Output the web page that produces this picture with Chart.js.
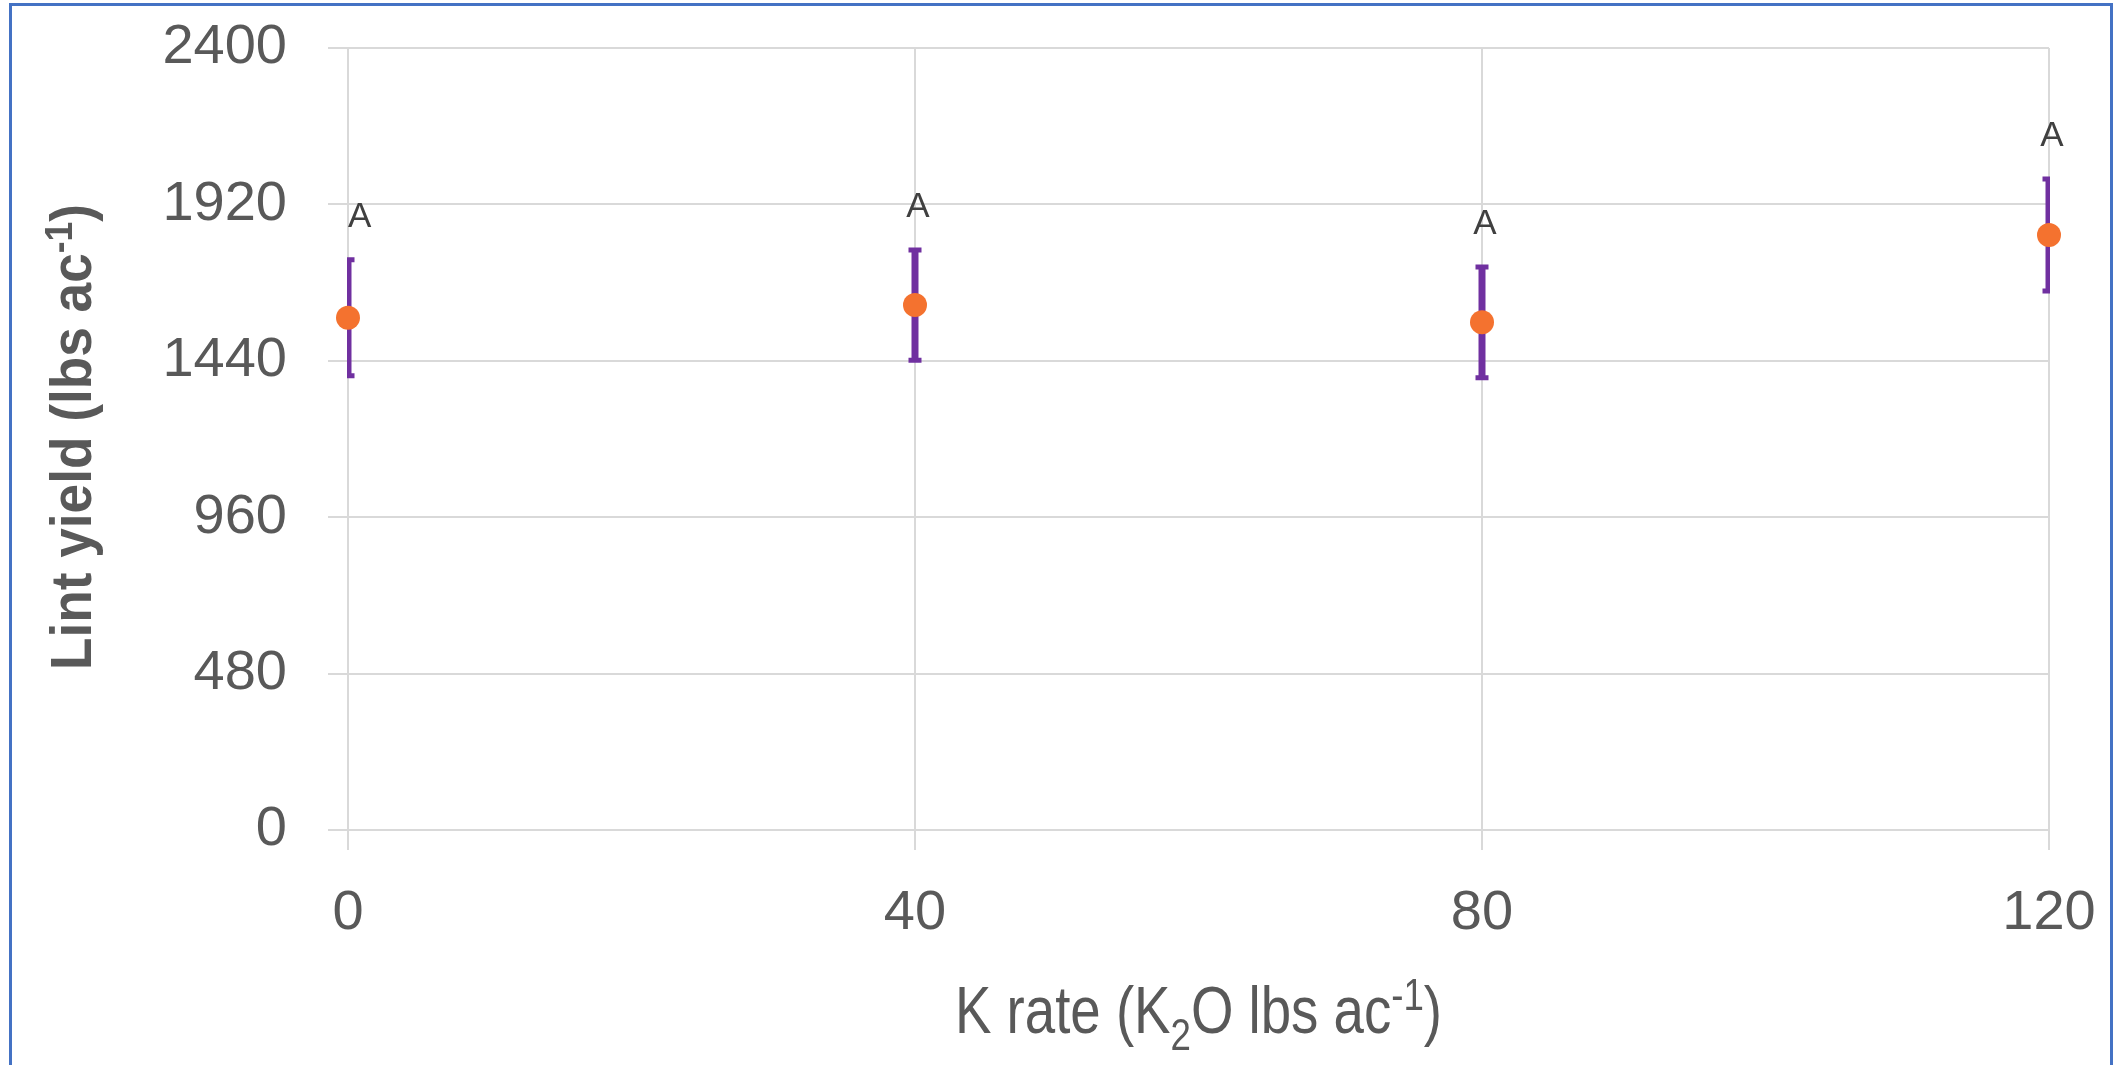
<!DOCTYPE html>
<html>
<head>
<meta charset="utf-8">
<script src="https://cdn.jsdelivr.net/npm/chart.js@4.4.1/dist/chart.umd.min.js"></script>
<style>
  html, body { margin: 0; padding: 0; background: #fff; overflow: hidden; }
  #wrap { position: relative; width: 2114px; height: 1065px; }
  #frame { position: absolute; left: 9px; top: 3px; width: 2104px; height: 1100px; border: 3px solid #4472c4; box-sizing: border-box; }
  canvas { position: absolute; left: 0; top: 0; }
</style>
</head>
<body>
<div id="wrap">
  <div id="frame"></div>
  <canvas id="yieldChart" width="2114" height="1065"></canvas>
</div>
<script>
const kRates = [0, 40, 80, 120];
const lintYield = [1572, 1611, 1558, 1826];
const yieldErr = [178, 169, 170, 172];
const letters = ['A', 'A', 'A', 'A'];
const xTicks = [0, 40, 80, 120];
const yTicks = [0, 480, 960, 1440, 1920, 2400];

const xTitle = [
  { text: 'K rate (K' }, { text: '2', script: 'sub' },
  { text: 'O lbs ac' }, { text: '-1', script: 'sup' }, { text: ')' }
];
const yTitle = [
  { text: 'Lint yield (lbs ac' }, { text: '-1', script: 'sup' }, { text: ')' }
];

const grey = '#595959';
const gridGrey = '#d9d9d9';

// rich text (sub/superscript) squeezed to a target width, like Calibri would set it
function drawRich(ctx, parts, size, weight, targetWidth) {
  const fontFor = p => `${weight} ${p.script ? Math.round(size * 0.67) : size}px "Liberation Sans"`;
  const widths = parts.map(p => { ctx.font = fontFor(p); return ctx.measureText(p.text).width; });
  const total = widths.reduce((a, b) => a + b, 0);
  const k = Math.min(1, targetWidth / total);
  ctx.scale(k, 1);
  let x = -total / 2;
  ctx.textBaseline = 'alphabetic';
  ctx.textAlign = 'left';
  parts.forEach((p, i) => {
    ctx.font = fontFor(p);
    const dy = p.script === 'sub' ? size * 0.25 : p.script === 'sup' ? -size * 0.34 : 0;
    ctx.fillText(p.text, x, dy);
    x += widths[i];
  });
}

const errorBars = {
  id: 'errorBars',
  beforeDatasetsDraw(chart) {
    const { ctx, chartArea, scales: { x, y } } = chart;
    ctx.save();
    ctx.beginPath();
    ctx.rect(chartArea.left - 1, chartArea.top, chartArea.right - chartArea.left + 2, chartArea.bottom - chartArea.top);
    ctx.clip();
    ctx.strokeStyle = '#7030a0';
    kRates.forEach((r, i) => {
      const px = x.getPixelForValue(r);
      const top = y.getPixelForValue(lintYield[i] + yieldErr[i]);
      const bot = y.getPixelForValue(lintYield[i] - yieldErr[i]);
      ctx.lineWidth = 7;
      ctx.beginPath();
      ctx.moveTo(px, top);
      ctx.lineTo(px, bot);
      ctx.stroke();
      ctx.lineWidth = 5;
      ctx.beginPath();
      ctx.moveTo(px - 6.5, top); ctx.lineTo(px + 6.5, top);
      ctx.moveTo(px - 6.5, bot); ctx.lineTo(px + 6.5, bot);
      ctx.stroke();
    });
    ctx.restore();
  },
  afterDatasetsDraw(chart) {
    const { ctx, chartArea, scales: { x, y } } = chart;
    ctx.save();
    ctx.font = '35px "Liberation Sans"';
    ctx.fillStyle = '#404040';
    ctx.textAlign = 'center';
    ctx.textBaseline = 'alphabetic';
    kRates.forEach((r, i) => {
      const w = ctx.measureText(letters[i]).width;
      const px = Math.max(x.getPixelForValue(r) + 3, chartArea.left + w / 2);
      const top = y.getPixelForValue(lintYield[i] + yieldErr[i]);
      ctx.fillText(letters[i], px, top - 33);
    });
    ctx.restore();
  }
};

const axisTitles = {
  id: 'axisTitles',
  afterDraw(chart) {
    const { ctx, chartArea } = chart;
    ctx.save();
    ctx.fillStyle = grey;
    ctx.translate((chartArea.left + chartArea.right) / 2, 1033);
    drawRich(ctx, xTitle, 67, 'normal', 487);
    ctx.restore();

    ctx.save();
    ctx.fillStyle = grey;
    ctx.translate(91, 437);
    ctx.rotate(-Math.PI / 2);
    drawRich(ctx, yTitle, 57, 'bold', 466);
    ctx.restore();
  }
};

new Chart(document.getElementById('yieldChart'), {
  type: 'scatter',
  data: {
    datasets: [{
      data: kRates.map((r, i) => ({ x: r, y: lintYield[i] })),
      backgroundColor: '#f4722f',
      borderWidth: 0,
      pointRadius: 12,
      pointHoverRadius: 12,
      clip: false
    }]
  },
  options: {
    responsive: false,
    animation: false,
    devicePixelRatio: 1,
    layout: { padding: { top: 48, right: 65, left: 0, bottom: 0 } },
    plugins: { legend: { display: false }, tooltip: { enabled: false } },
    scales: {
      x: {
        type: 'linear',
        min: 0,
        max: 120,
        afterBuildTicks: s => { s.ticks = xTicks.map(v => ({ value: v })); },
        afterFit: s => { s.height = 235; s.paddingLeft = 0; s.paddingRight = 0; },
        grid: { color: gridGrey, lineWidth: 2, tickLength: 20 },
        border: { color: gridGrey, width: 2 },
        ticks: { color: grey, font: { family: 'Liberation Sans', size: 56 }, padding: 30, maxRotation: 0, callback: v => String(v) }
      },
      y: {
        min: 0,
        max: 2400,
        afterBuildTicks: s => { s.ticks = yTicks.map(v => ({ value: v })); },
        afterFit: s => { s.width = 348; s.paddingTop = 0; s.paddingBottom = 0; },
        grid: { color: gridGrey, lineWidth: 2, tickLength: 20 },
        border: { color: gridGrey, width: 2 },
        ticks: { color: grey, font: { family: 'Liberation Sans', size: 56 }, padding: 41, callback: v => String(v) }
      }
    }
  },
  plugins: [errorBars, axisTitles]
});
</script>
</body>
</html>
